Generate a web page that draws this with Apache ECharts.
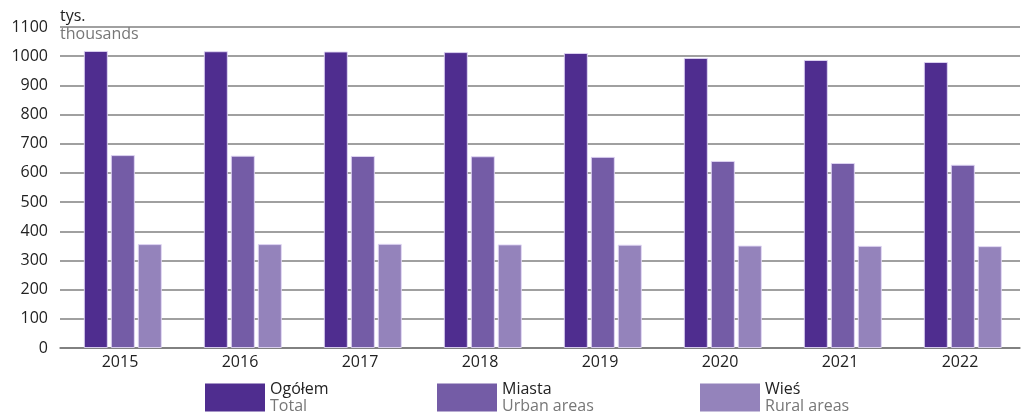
<!DOCTYPE html>
<html><head><meta charset="utf-8">
<script src="https://cdn.jsdelivr.net/npm/echarts@6/dist/echarts.min.js"></script>
<style>html,body{margin:0;padding:0;background:#fff}#c{width:1021px;height:412px}</style>
</head><body><div id="c"></div>
<script>
const years = ['2015','2016','2017','2018','2019','2020','2021','2022'];
const total = [1018,1017,1016,1014,1011,994,987,980];
const urban = [661,659,658,657,655,641,634,628];
const rural = [356,356,357,355,354,351,350,349];
const seriesPL = ['Ogółem','Miasta','Wieś'];
const seriesEN = ['Total','Urban areas','Rural areas'];
const colors = ['#4f2d8f','#745ca6','#9483bb'];
const FONT = 'Open Sans';
const chart = echarts.init(document.getElementById('c'));
const vals = [total, urban, rural];
const legendLefts = [205, 437, 700];
const barSeries = seriesPL.map((n,i)=>({
  name:n,type:'bar',data:vals[i],barWidth:24,barGap:'12.5%',
  itemStyle:{color:colors[i],borderColor:'rgba(225,215,245,0.9)',borderWidth:1}
}));
// empty spacer series so the bar group sits slightly right of the category centre
const spacer = {name:'_spacer',type:'bar',data:[],barWidth:5,barGap:'12.5%',silent:true};
chart.setOption({
  animation:false,
  textStyle:{fontFamily:FONT},
  grid:{left:60,right:1,top:27,bottom:64},
  xAxis:{type:'category',data:years,
    axisLine:{lineStyle:{color:'#777',width:1.5}},
    axisTick:{show:false},
    axisLabel:{color:'#222',fontSize:16,margin:6,fontFamily:FONT}},
  yAxis:{type:'value',min:0,max:1100,interval:100,
    axisLine:{show:false},axisTick:{show:false},
    axisLabel:{color:'#222',fontSize:16,margin:12,fontFamily:FONT,formatter:(v)=>String(v)},
    splitLine:{lineStyle:{color:'#808080',width:1.5}}},
  legend: seriesPL.map((n,i)=>({
    data:[n], left:legendLefts[i], top:381, itemWidth:60, itemHeight:28,
    padding:0, icon:'rect',
    itemStyle:{borderWidth:0},
    formatter: (name)=>'{a|'+name+'}\n{b|'+seriesEN[seriesPL.indexOf(name)]+'}',
    textStyle:{rich:{a:{fontSize:16,color:'#222',lineHeight:17,fontFamily:FONT},b:{fontSize:16,color:'#777',lineHeight:17,fontFamily:FONT}}},
    itemGap:0
  })),
  graphic:[
    {type:'text',left:60,top:8,style:{text:'tys.',fontSize:16,fill:'#222',fontFamily:FONT}},
    {type:'text',left:60,top:26,style:{text:'thousands',fontSize:16,fill:'#777',fontFamily:FONT}}
  ],
  series: [spacer].concat(barSeries)
});
</script></body></html>
